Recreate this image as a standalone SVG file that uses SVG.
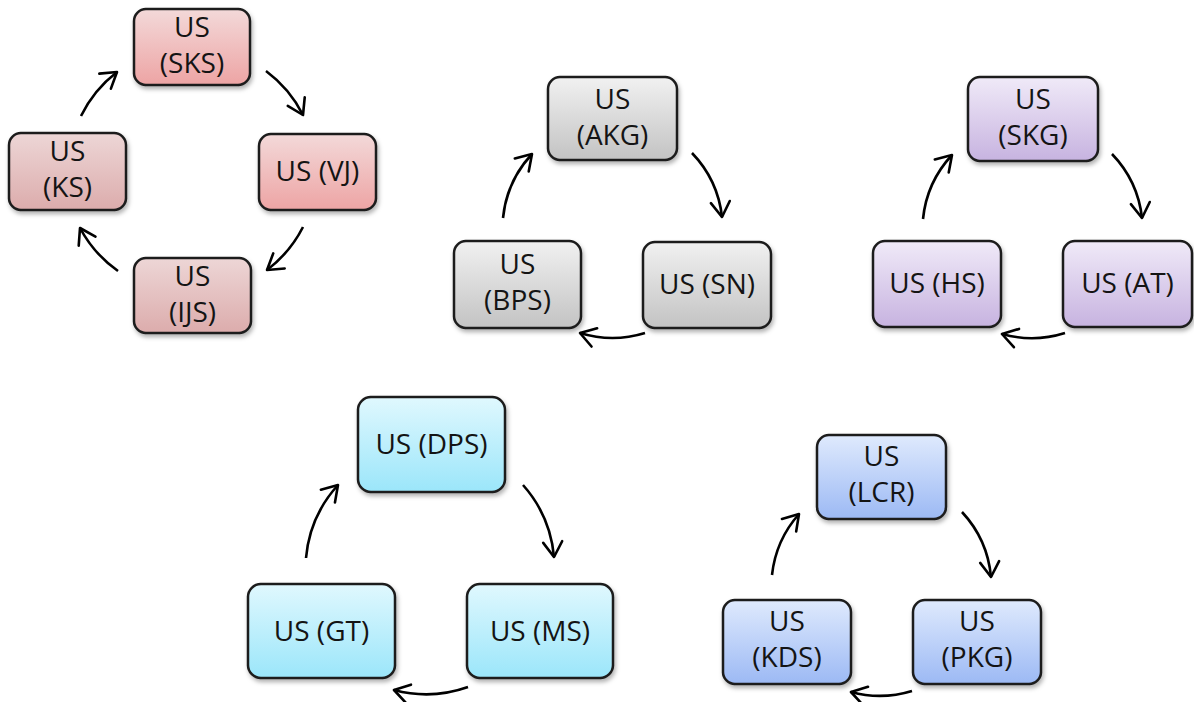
<svg xmlns="http://www.w3.org/2000/svg" width="1194" height="702" viewBox="0 0 1194 702">
<style>
.box{stroke:#1c1c1c;stroke-width:2.5}
.t{font-family:"Open Sans","Liberation Sans",sans-serif;font-size:28px;fill:#141414;text-anchor:middle}
.c{fill:none;stroke:#000;stroke-width:2.6;marker-end:url(#ah)}
</style>
<defs>
<filter id="sh" x="-10%" y="-10%" width="125%" height="130%">
<feDropShadow dx="1.5" dy="3" stdDeviation="2" flood-color="#000" flood-opacity="0.3"/>
</filter>
<marker id="ah" markerUnits="userSpaceOnUse" markerWidth="40" markerHeight="40" viewBox="-20 -20 40 40" refX="0" refY="0" orient="auto">
<path d="M-15,-9.5 L0,0 L-15,9.5" fill="none" stroke="#000" stroke-width="2.6" stroke-linecap="round" stroke-linejoin="round"/>
</marker>
<linearGradient id="gR1" x1="0" y1="0" x2="0" y2="1"><stop offset="0" stop-color="#f3d9d9"/><stop offset="1" stop-color="#eda4a4"/></linearGradient>
<linearGradient id="gR2" x1="0" y1="0" x2="0" y2="1"><stop offset="0" stop-color="#edd6d6"/><stop offset="1" stop-color="#dcacac"/></linearGradient>
<linearGradient id="gG" x1="0" y1="0" x2="0" y2="1"><stop offset="0" stop-color="#f1f1f1"/><stop offset="1" stop-color="#c3c3c3"/></linearGradient>
<linearGradient id="gP" x1="0" y1="0" x2="0" y2="1"><stop offset="0" stop-color="#f0eaf8"/><stop offset="1" stop-color="#c7b3e0"/></linearGradient>
<linearGradient id="gC" x1="0" y1="0" x2="0" y2="1"><stop offset="0" stop-color="#e0f8fe"/><stop offset="1" stop-color="#9be6fa"/></linearGradient>
<linearGradient id="gB" x1="0" y1="0" x2="0" y2="1"><stop offset="0" stop-color="#dfeafd"/><stop offset="1" stop-color="#9cb9f4"/></linearGradient>
</defs>
<rect width="1194" height="702" fill="#fff"/>

<g id="connectors">
<path class="c" d="M266,71 A125,125 0 0,1 303,115"/>
<path class="c" d="M303,227 A125,125 0 0,1 267,270"/>
<path class="c" d="M118,271 A125,125 0 0,1 80,228"/>
<path class="c" d="M81,116 A125,125 0 0,1 117,72"/>

<path class="c" d="M692,153 A110,110 0 0,1 722,217"/>
<path class="c" d="M645,333 A110,110 0 0,1 580,333"/>
<path class="c" d="M503,218 A110,110 0 0,1 532,154"/>

<path class="c" d="M1112,154 A110,110 0 0,1 1142,218"/>
<path class="c" d="M1065,333 A110,110 0 0,1 1002,334"/>
<path class="c" d="M923,219 A110,110 0 0,1 952,155"/>

<path class="c" d="M523,485 A125,125 0 0,1 554,557"/>
<path class="c" d="M468,687 A125,125 0 0,1 394,690"/>
<path class="c" d="M306,558 A125,125 0 0,1 338,485"/>

<path class="c" d="M962,512 A110,110 0 0,1 991,577"/>
<path class="c" d="M912,691 A110,110 0 0,1 851,692"/>
<path class="c" d="M772,575 A110,110 0 0,1 799,514"/>
</g>

<g id="node-SKS"><rect class="box" x="134" y="9" width="116" height="76" rx="12" fill="url(#gR1)" filter="url(#sh)"/><text class="t" x="192" y="37">US</text><text class="t" x="192" y="73">(SKS)</text></g>
<g id="node-VJ"><rect class="box" x="259" y="134" width="117" height="76" rx="12" fill="url(#gR1)" filter="url(#sh)"/><text class="t" x="317.5" y="181">US (VJ)</text></g>
<g id="node-IJS"><rect class="box" x="134" y="258" width="117" height="75" rx="12" fill="url(#gR2)" filter="url(#sh)"/><text class="t" x="192.5" y="286">US</text><text class="t" x="192.5" y="322">(IJS)</text></g>
<g id="node-KS"><rect class="box" x="9" y="133" width="117" height="77" rx="12" fill="url(#gR2)" filter="url(#sh)"/><text class="t" x="67.5" y="161">US</text><text class="t" x="67.5" y="197">(KS)</text></g>

<g id="node-AKG"><rect class="box" x="548" y="77" width="129" height="83" rx="12" fill="url(#gG)" filter="url(#sh)"/><text class="t" x="612.5" y="109">US</text><text class="t" x="612.5" y="145">(AKG)</text></g>
<g id="node-SN"><rect class="box" x="643" y="242" width="128" height="86" rx="12" fill="url(#gG)" filter="url(#sh)"/><text class="t" x="707" y="294">US (SN)</text></g>
<g id="node-BPS"><rect class="box" x="454" y="241" width="127" height="87" rx="12" fill="url(#gG)" filter="url(#sh)"/><text class="t" x="517.5" y="274">US</text><text class="t" x="517.5" y="310">(BPS)</text></g>

<g id="node-SKG"><rect class="box" x="968" y="77" width="130" height="84" rx="12" fill="url(#gP)" filter="url(#sh)"/><text class="t" x="1033" y="109">US</text><text class="t" x="1033" y="145">(SKG)</text></g>
<g id="node-AT"><rect class="box" x="1063" y="241" width="129" height="86" rx="12" fill="url(#gP)" filter="url(#sh)"/><text class="t" x="1127.5" y="293">US (AT)</text></g>
<g id="node-HS"><rect class="box" x="873" y="241" width="128" height="86" rx="12" fill="url(#gP)" filter="url(#sh)"/><text class="t" x="937" y="293">US (HS)</text></g>

<g id="node-DPS"><rect class="box" x="358" y="397" width="147" height="95" rx="13" fill="url(#gC)" filter="url(#sh)"/><text class="t" x="431.5" y="454">US (DPS)</text></g>
<g id="node-MS"><rect class="box" x="467" y="584" width="146" height="94" rx="13" fill="url(#gC)" filter="url(#sh)"/><text class="t" x="540" y="641">US (MS)</text></g>
<g id="node-GT"><rect class="box" x="248" y="584" width="147" height="94" rx="13" fill="url(#gC)" filter="url(#sh)"/><text class="t" x="321.5" y="641">US (GT)</text></g>

<g id="node-LCR"><rect class="box" x="817" y="435" width="129" height="84" rx="12" fill="url(#gB)" filter="url(#sh)"/><text class="t" x="881.5" y="466">US</text><text class="t" x="881.5" y="502">(LCR)</text></g>
<g id="node-PKG"><rect class="box" x="913" y="600" width="128" height="84" rx="12" fill="url(#gB)" filter="url(#sh)"/><text class="t" x="977" y="631">US</text><text class="t" x="977" y="667">(PKG)</text></g>
<g id="node-KDS"><rect class="box" x="723" y="600" width="128" height="84" rx="12" fill="url(#gB)" filter="url(#sh)"/><text class="t" x="787" y="631">US</text><text class="t" x="787" y="667">(KDS)</text></g>
</svg>
